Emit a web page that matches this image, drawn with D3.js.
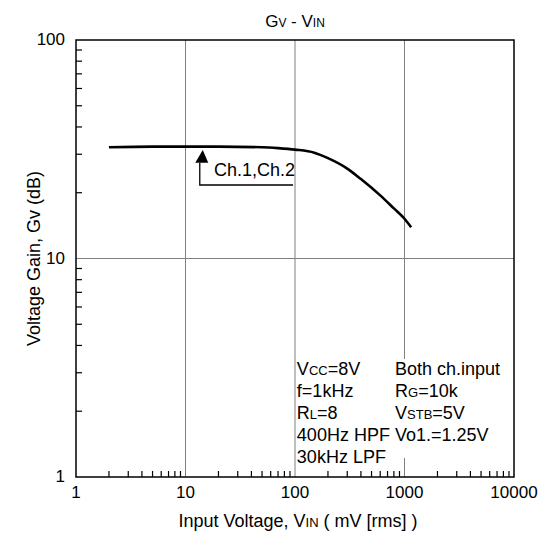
<!DOCTYPE html>
<html>
<head>
<meta charset="utf-8">
<script src="https://cdn.jsdelivr.net/npm/d3@7"></script>
<style>
  body { margin: 0; background: #fff; }
  text { font-family: "Liberation Sans", Arial, sans-serif; fill: #000; }
</style>
</head>
<body>
<div id="chart"></div>
<script>
// curve: input voltage (mV rms) vs voltage gain (dB)
var vin = [2, 5, 10, 20, 50, 70, 100, 150, 200, 300, 400, 600, 800, 1000, 1150];
var gv = [32.3, 32.5, 32.5, 32.5, 32.3, 32.0, 31.5, 30.5, 28.8, 25.8, 23.1, 19.45, 16.95, 15.2, 13.9];

var xTicks = [1, 10, 100, 1000, 10000];
var yTicks = [1, 10, 100];

var svgWidth = 548;
var svgHeight = 536;
var margin = { top: 40, right: 34, bottom: 59, left: 76 };
var width = svgWidth - margin.left - margin.right;
var height = svgHeight - margin.top - margin.bottom;

var svg = d3.select("#chart")
  .append("svg")
  .attr("width", svgWidth)
  .attr("height", svgHeight);

var chartGroup = svg.append("g")
  .attr("transform", `translate(${margin.left}, ${margin.top})`);

var x = d3.scaleLog().domain([1, 10000]).range([0, width]);
var y = d3.scaleLog().domain([1, 100]).range([height, 0]);

// minor ticks 2..9 in each decade
var xMinor = [];
for (var d = 1; d < 10000; d *= 10) for (var k = 2; k <= 9; k++) xMinor.push(d * k);
var yMinor = [];
for (var d = 1; d < 100; d *= 10) for (var k = 2; k <= 9; k++) yMinor.push(d * k);

// grid at decades
chartGroup.selectAll(".gx").data(xTicks.slice(1, -1)).enter().append("line")
  .attr("x1", d => x(d)).attr("x2", d => x(d))
  .attr("y1", 0).attr("y2", height)
  .attr("stroke", "#808080").attr("stroke-width", 1);
chartGroup.selectAll(".gy").data(yTicks.slice(1, -1)).enter().append("line")
  .attr("x1", 0).attr("x2", width)
  .attr("y1", d => y(d)).attr("y2", d => y(d))
  .attr("stroke", "#808080").attr("stroke-width", 1);

// white patch behind the right text column
chartGroup.append("rect")
  .attr("x", x(800)).attr("y", y(2.9) - 17)
  .attr("width", 86).attr("height", 99)
  .attr("fill", "#fff");

// minor ticks inward
chartGroup.selectAll(".tx").data(xMinor).enter().append("line")
  .attr("x1", d => x(d)).attr("x2", d => x(d))
  .attr("y1", height).attr("y2", height - 6)
  .attr("stroke", "#000").attr("stroke-width", 1.2);
chartGroup.selectAll(".ty").data(yMinor).enter().append("line")
  .attr("x1", 0).attr("x2", 6)
  .attr("y1", d => y(d)).attr("y2", d => y(d))
  .attr("stroke", "#000").attr("stroke-width", 1.2);

// frame
chartGroup.append("rect")
  .attr("width", width).attr("height", height)
  .attr("fill", "none").attr("stroke", "#000").attr("stroke-width", 1.5);

// tick labels
chartGroup.selectAll(".lx").data(xTicks).enter().append("text")
  .attr("x", d => x(d)).attr("y", height + 21)
  .attr("text-anchor", "middle").attr("font-size", "17px")
  .text(d => d);
chartGroup.selectAll(".ly").data(yTicks).enter().append("text")
  .attr("x", -11).attr("y", d => y(d) + 5)
  .attr("text-anchor", "end").attr("font-size", "17px")
  .text(d => d);

// the curve
var pts = vin.map((v, i) => [v, gv[i]]);
chartGroup.append("path")
  .datum(pts)
  .attr("d", d3.line().x(d => x(d[0])).y(d => y(d[1])).curve(d3.curveMonotoneX))
  .attr("fill", "none").attr("stroke", "#000").attr("stroke-width", 2.6);

// arrow annotation
var arrowX = 13.5, tipY = 31.4, headY = 27.4, cornerY = 21.7, endX = 96;
chartGroup.append("polyline")
  .attr("points", [[x(arrowX), y(headY)], [x(arrowX), y(cornerY)], [x(endX), y(cornerY)]].join(" "))
  .attr("fill", "none").attr("stroke", "#000").attr("stroke-width", 1.3);
chartGroup.append("path")
  .attr("d", `M${x(arrowX) + 3},${y(tipY)} L${x(arrowX) - 4.5},${y(headY)} L${x(arrowX) + 8.5},${y(headY)} Z`)
  .attr("fill", "#000");
chartGroup.append("text")
  .attr("x", x(18.2)).attr("y", y(23.9))
  .attr("font-size", "18px")
  .text("Ch.1,Ch.2");

// conditions text
function addLine(g, xv, yPix, parts) {
  var t = g.append("text").attr("x", x(xv)).attr("y", yPix).attr("font-size", "18px");
  parts.forEach(function(p) {
    var s = t.append("tspan").text(p[0]);
    if (p[1]) s.attr("font-size", "13px");
  });
}
var leftCol = [
  [["V"], ["CC", 1], ["=8V"]],
  [["f=1kHz"]],
  [["R"], ["L", 1], ["=8"]],
  [["400Hz HPF"]],
  [["30kHz LPF"]]
];
var rightCol = [
  [["Both ch.input"]],
  [["R"], ["G", 1], ["=10k"]],
  [["V"], ["STB", 1], ["=5V"]],
  [["Vo1.=1.25V"]]
];
var rowGap = 22;
leftCol.forEach((row, i) => addLine(chartGroup, 104, y(2.93) + i * rowGap, row));
rightCol.forEach((row, i) => addLine(chartGroup, 819, y(2.93) + i * rowGap, row));

// title
var title = svg.append("text")
  .attr("x", margin.left + width / 2).attr("y", 27)
  .attr("text-anchor", "middle").attr("font-size", "17px");
title.append("tspan").text("G");
title.append("tspan").attr("font-size", "12px").text("V");
title.append("tspan").text(" - V");
title.append("tspan").attr("font-size", "12px").text("IN");

// axis labels
var xl = svg.append("text")
  .attr("x", margin.left + width / 2 + 3).attr("y", 527)
  .attr("text-anchor", "middle").attr("font-size", "18px");
xl.append("tspan").text("Input Voltage, V");
xl.append("tspan").attr("font-size", "13px").text("IN");
xl.append("tspan").text(" ( mV [rms] )");

svg.append("text")
  .attr("transform", `translate(40, ${margin.top + height / 2}) rotate(-90)`)
  .attr("text-anchor", "middle").attr("font-size", "18px")
  .text("Voltage Gain, Gv (dB)");
</script>
</body>
</html>
